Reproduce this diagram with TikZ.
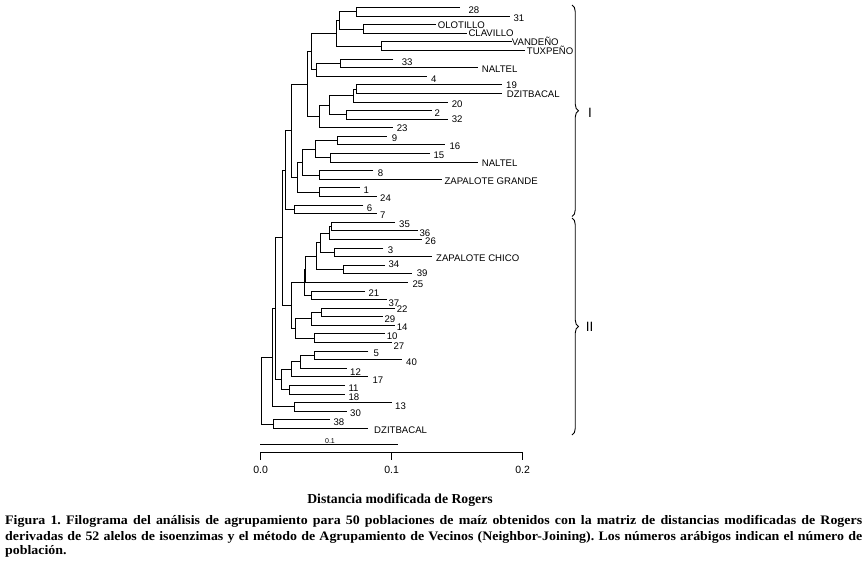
\documentclass[tikz,border=0pt]{standalone}
\usepackage{fontspec}
\setmainfont{Liberation Serif}
\setsansfont{Liberation Sans}
\newfontfamily\capfont[FakeStretch=1.07]{Liberation Serif}
\usetikzlibrary{decorations.pathreplacing}
\newcommand\Lf[6]{%
  \pgfmathsetmacro\tmpy{7.5+8.59*#2}%
  \expandafter\xdef\csname ty#1\endcsname{\tmpy}%
  \coordinate (#1) at (#3,\tmpy);
  \node[lab] (#1-t) at (#4,#5) {#6};
}
\newcommand\In[4]{%
  \pgfmathsetmacro\tmpy{(\csname ty#3\endcsname+\csname ty#4\endcsname)/2}%
  \expandafter\xdef\csname ty#1\endcsname{\tmpy}%
  \coordinate (#1) at (#2,\tmpy);
  \draw[br] (#3) -- (#1 |- #3) -- (#1 |- #4) -- (#4);
}
\begin{document}
\frenchspacing
\begin{tikzpicture}[x=1pt,y=-1pt,
  lab/.style={font=\sffamily\fontsize{9.6}{10}\selectfont,anchor=west,inner sep=0pt,text height=6.8pt,text depth=0pt},
  br/.style={line width=0.9pt},
  tick/.style={font=\sffamily\fontsize{10.5}{11}\selectfont,inner sep=0pt,text height=7.5pt,text depth=0pt},
  grp/.style={font=\sffamily\fontsize{13.5}{14}\selectfont,inner sep=0pt},
  captxt/.style={font=\capfont\bfseries\fontsize{13}{16}\selectfont,anchor=base west,inner sep=0pt}]
\fill[white] (0,0) rectangle (868,568);
\useasboundingbox (0,0) rectangle (868,568);
% leaves: name, index, tip x, label x, label y, text
\Lf{L28}{0}{460}{468.3}{10}{28}
\Lf{L31}{1}{510}{513.3}{18.3}{31}
\Lf{LOLO}{2}{436}{437.7}{25}{OLOTILLO}
\Lf{LCLA}{3}{466.7}{468.3}{33.3}{CLAVILLO}
\Lf{LVAN}{4}{511.7}{511.7}{41.7}{VANDEÑO}
\Lf{LTUX}{5}{525}{526.7}{50.7}{TUXPEÑO}
\Lf{L33}{6}{393.3}{401.7}{61.7}{33}
\Lf{LNALa}{7}{478.3}{481.7}{69}{NALTEL}
\Lf{L4}{8}{426.7}{431}{79}{4}
\Lf{L19}{9}{501.7}{506}{85}{19}
\Lf{LDZIa}{10}{501.7}{506.7}{94}{DZITBACAL}
\Lf{L20}{11}{448.3}{451.7}{104}{20}
\Lf{L2}{12}{431.7}{434.3}{112.7}{2}
\Lf{L32}{13}{448.3}{451.7}{118.7}{32}
\Lf{L23}{14}{393.3}{396.7}{128.3}{23}
\Lf{L9}{15}{386.7}{391.7}{138.3}{9}
\Lf{L16}{16}{445}{449.3}{145.7}{16}
\Lf{L15}{17}{430}{433.3}{155}{15}
\Lf{LNALb}{18}{478.3}{481.7}{163.3}{NALTEL}
\Lf{L8}{19}{373.3}{377.7}{173.3}{8}
\Lf{LZAPG}{20}{441.7}{444.3}{181}{ZAPALOTE GRANDE}
\Lf{L1}{21}{360}{363.3}{190}{1}
\Lf{L24}{22}{376.7}{380}{197.7}{24}
\Lf{L6}{23}{363.3}{366.7}{207.7}{6}
\Lf{L7}{24}{376.7}{380}{215}{7}
\Lf{L35}{25}{395}{399}{224.3}{35}
\Lf{L36}{26}{418.3}{419.3}{232.7}{36}
\Lf{L26}{27}{421.7}{425}{241}{26}
\Lf{L3}{28}{383.3}{387.7}{250}{3}
\Lf{LZAPC}{29}{431.7}{436}{258.3}{ZAPALOTE CHICO}
\Lf{L34}{30}{385}{388.3}{264.3}{34}
\Lf{L39}{31}{411.7}{416.7}{273.3}{39}
\Lf{L25}{32}{408.3}{412.3}{284}{25}
\Lf{L21}{33}{365}{368.3}{293.3}{21}
\Lf{L37}{34}{386.7}{388.3}{302.7}{37}
\Lf{L22}{35}{395}{396.7}{309}{22}
\Lf{L29}{36}{383.3}{384.3}{319.3}{29}
\Lf{L14}{37}{395}{396.7}{326.7}{14}
\Lf{L10}{38}{385}{386.7}{336}{10}
\Lf{L27}{39}{391.7}{393.3}{345.7}{27}
\Lf{L5}{40}{368.3}{373.3}{353.3}{5}
\Lf{L40}{41}{401.7}{406}{362.3}{40}
\Lf{L12}{42}{346.7}{350}{371.7}{12}
\Lf{L17}{43}{368.3}{372.3}{380}{17}
\Lf{L11}{44}{345}{348.3}{388.3}{11}
\Lf{L18}{45}{345}{348.3}{396.7}{18}
\Lf{L13}{46}{391.7}{395}{405.7}{13}
\Lf{L30}{47}{346.7}{350}{413.3}{30}
\Lf{L38}{48}{330}{333.3}{422.3}{38}
\Lf{LDZIb}{49}{368.3}{374}{430}{DZITBACAL}
% internal nodes: name, x, child1, child2
\In{n2831}{356.7}{L28}{L31}
\In{nOC}{363.3}{LOLO}{LCLA}
\In{nA}{339.3}{n2831}{nOC}
\In{nVT}{381.7}{LVAN}{LTUX}
\In{nB}{336}{nA}{nVT}
\In{n33N}{340}{L33}{LNALa}
\In{nD}{316}{n33N}{L4}
\In{nC}{311.7}{nB}{nD}
\In{n19D}{356}{L19}{LDZIa}
\In{nF}{353.7}{n19D}{L20}
\In{n232}{346.7}{L2}{L32}
\In{nG}{329}{nF}{n232}
\In{nH}{319.3}{nG}{L23}
\In{nE}{307.3}{nC}{nH}
\In{nK}{337.3}{L9}{L16}
\In{nL}{330.7}{L15}{LNALb}
\In{nM}{315}{nK}{nL}
\In{nN}{319.3}{L8}{LZAPG}
\In{nO}{302.7}{nM}{nN}
\In{nP}{319.3}{L1}{L24}
\In{nJ}{297.3}{nO}{nP}
\In{nI}{291.7}{nE}{nJ}
\In{nQ}{294}{L6}{L7}
\In{nR}{285}{nI}{nQ}
\In{nS}{331.7}{L35}{L36}
\In{nT}{329.3}{nS}{L26}
\In{nU}{334.3}{L3}{LZAPC}
\In{nV}{320}{nT}{nU}
\In{nW}{343.3}{L34}{L39}
\In{nX}{316.7}{nV}{nW}
\In{nY}{305.7}{nX}{L25}
\In{nZ}{311.7}{L21}{L37}
\In{nAA}{304.3}{nY}{nZ}
\In{nAB}{321.7}{L22}{L29}
\In{nAC}{311.7}{nAB}{L14}
\In{nAD}{314.3}{L10}{L27}
\In{nAE}{295}{nAC}{nAD}
\In{nAF}{291}{nAA}{nAE}
\In{nRR}{282.3}{nR}{nAF}
\In{nAG}{314}{L5}{L40}
\In{nAH}{300}{nAG}{L12}
\In{nAI}{291}{nAH}{L17}
\In{nAJ}{289.3}{L11}{L18}
\In{nAK}{281.7}{nAI}{nAJ}
\In{nAL}{275.7}{nRR}{nAK}
\In{nAM}{294}{L13}{L30}
\In{nAN}{272.3}{nAL}{nAM}
\In{nAO}{273.3}{L38}{LDZIb}
\In{root}{261}{nAN}{nAO}
% braces
\coordinate (b1t) at (572,5);
\coordinate (b1b) at (572,216.5);
\coordinate (b2t) at (572,218);
\coordinate (b2b) at (572,435);
\draw[br,decorate,decoration={brace,amplitude=6.5pt}] (b1t) -- (b1b);
\draw[br,decorate,decoration={brace,amplitude=6.5pt}] (b2t) -- (b2b);
\node[grp] (gI) at (590,113) {I};
\node[grp] (gII) at (589.5,326.7) {II};
% scale bar
\coordinate (sb0) at (260,444.3);
\coordinate (sb1) at (398.3,444.3);
\draw[br] (sb0) -- (sb1);
\node[font=\sffamily\fontsize{7}{7}\selectfont,inner sep=0pt,anchor=south] (sbl) at (330,443.3) {0.1};
% axis
\coordinate (a0) at (260.7,452.3);
\coordinate (a1) at (391.7,452.3);
\coordinate (a2) at (522.7,452.3);
\draw[br] ([yshift=-7.7pt]a0) -- (a0) -- (a2) -- ([yshift=-7.7pt]a2);
\draw[br] (a1) -- ([yshift=-7.7pt]a1);
\node[tick] (t0) at (260.7,470) {0.0};
\node[tick] (t1) at (391.7,470) {0.1};
\node[tick] (t2) at (522.7,470) {0.2};
% title and caption
\node[font=\bfseries\fontsize{13.7}{14}\selectfont,anchor=base,inner sep=0pt] (title) at (400,503.3) {Distancia modificada de Rogers};
\node[captxt] (c1) at (5,524.3) {\makebox[857pt][s]{Figura 1. Filograma del análisis de agrupamiento para 50 poblaciones de maíz obtenidos con la matriz de distancias modificadas de Rogers}};
\node[captxt] (c2) at (5,540.3) {\makebox[857pt][s]{derivadas de 52 alelos de isoenzimas y el método de Agrupamiento de Vecinos (Neighbor-Joining). Los números arábigos indican el número de}};
\node[captxt] (c3) at (5,554.5) {población.};
\end{tikzpicture}
\end{document}
